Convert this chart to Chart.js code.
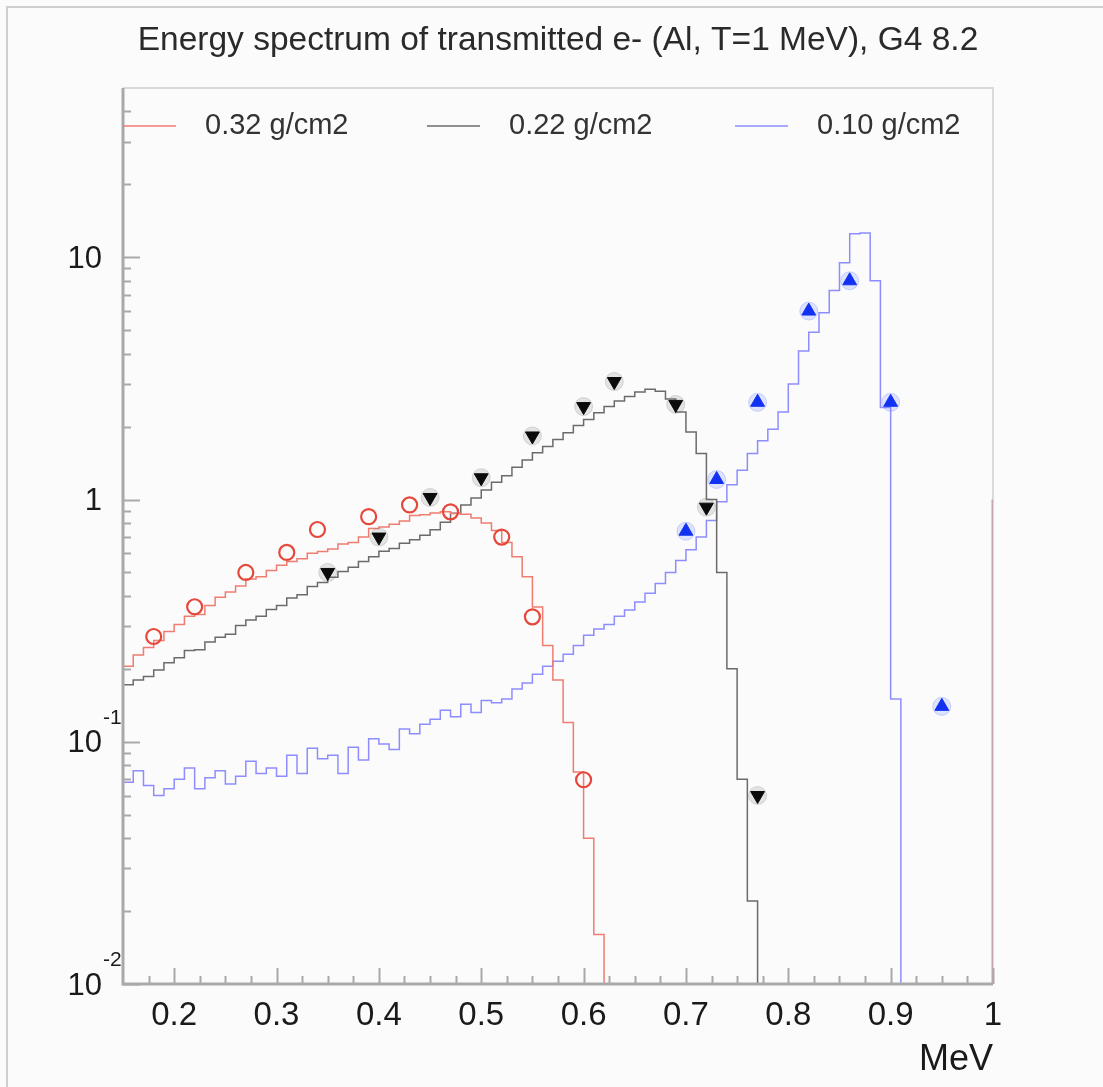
<!DOCTYPE html>
<html>
<head>
<meta charset="utf-8">
<title>Energy spectrum of transmitted e-</title>
<script src="https://cdn.jsdelivr.net/npm/chart.js@4.4.1/dist/chart.umd.min.js"></script>
<style>
  html, body { margin: 0; padding: 0; background: #fbfbfb; }
  canvas { display: block; }
</style>
</head>
<body>
<canvas id="spectrumChart" width="1103" height="1087"></canvas>
<script>
// Histogram bins: 0.01 MeV wide, first bin starts at 0.15 MeV
const binWidth = 0.01;
const binStart = 0.15;

// 0.32 g/cm2 (red), bins 0.15 .. 0.61
const red032 = [
  0.205, 0.228, 0.245, 0.262, 0.285, 0.305, 0.330, 0.335, 0.365, 0.395,
  0.415, 0.440, 0.470, 0.480, 0.510, 0.535, 0.555, 0.570, 0.600, 0.610,
  0.625, 0.655, 0.665, 0.700, 0.760, 0.770, 0.790, 0.815, 0.860, 0.865,
  0.880, 0.890, 0.875, 0.870, 0.840, 0.800, 0.745, 0.665, 0.580, 0.480,
  0.360, 0.250, 0.180, 0.120, 0.075, 0.040, 0.016
];

// 0.22 g/cm2 (black), bins 0.15 .. 0.76
const black022 = [
  0.172, 0.180, 0.186, 0.198, 0.212, 0.222, 0.238, 0.240, 0.258, 0.270,
  0.278, 0.302, 0.318, 0.330, 0.352, 0.365, 0.392, 0.405, 0.438, 0.455,
  0.478, 0.505, 0.525, 0.555, 0.580, 0.612, 0.628, 0.660, 0.682, 0.712,
  0.750, 0.805, 0.878, 0.950, 1.015, 1.095, 1.180, 1.255, 1.360, 1.455,
  1.560, 1.655, 1.770, 1.885, 2.020, 2.140, 2.280, 2.420, 2.550, 2.660,
  2.780, 2.850, 2.800, 2.600, 2.300, 1.900, 1.550, 1.000, 0.500, 0.200,
  0.070, 0.022
];

// 0.10 g/cm2 (blue), bins 0.15 .. 0.90
const blue010 = [
  0.068, 0.076, 0.066, 0.060, 0.064, 0.070, 0.078, 0.064, 0.071, 0.076,
  0.067, 0.072, 0.083, 0.074, 0.078, 0.072, 0.088, 0.074, 0.094, 0.085,
  0.088, 0.074, 0.095, 0.084, 0.103, 0.098, 0.093, 0.113, 0.108, 0.118,
  0.124, 0.135, 0.127, 0.143, 0.132, 0.148, 0.145, 0.150, 0.165, 0.175,
  0.190, 0.205, 0.215, 0.230, 0.250, 0.275, 0.292, 0.305, 0.330, 0.350,
  0.378, 0.410, 0.450, 0.500, 0.560, 0.620, 0.700, 0.820, 0.980, 1.150,
  1.320, 1.550, 1.750, 1.950, 2.300, 3.000, 4.100, 4.900, 5.900, 7.300,
  9.500, 12.50, 12.60, 8.000, 2.400, 0.150
];

// single bin sitting on the 1 MeV edge
const edgeBinStart = 1.0;
const edgeBin = [1.0];

// measured points
const redPtsE = [0.18, 0.22, 0.27, 0.31, 0.34, 0.39, 0.43, 0.47, 0.52, 0.55, 0.60];
const redPtsV = [0.272, 0.361, 0.50, 0.605, 0.752, 0.85, 0.95, 0.89, 0.70, 0.328, 0.0697];
const blackPtsE = [0.35, 0.40, 0.45, 0.50, 0.55, 0.60, 0.63, 0.69, 0.72, 0.77];
const blackPtsV = [0.50, 0.70, 1.02, 1.23, 1.83, 2.42, 3.07, 2.47, 0.93, 0.060];
const bluePtsE = [0.70, 0.73, 0.77, 0.82, 0.86, 0.90, 0.95];
const bluePtsV = [0.74, 1.21, 2.52, 6.0, 8.0, 2.52, 0.14];

// axis ticks and labels
const xTickValues = [0.2, 0.3, 0.4, 0.5, 0.6, 0.7, 0.8, 0.9, 1.0];
const xTickLabels = ['0.2', '0.3', '0.4', '0.5', '0.6', '0.7', '0.8', '0.9', '1'];
const yTickValues = [0.01, 0.1, 1, 10];
const yTickBase = ['10', '10', '1', '10'];
const yTickExp = ['-2', '-1', '', ''];

const legendLabels = ['0.32 g/cm2', '0.22 g/cm2', '0.10 g/cm2'];
const titleText = 'Energy spectrum of transmitted e- (Al, T=1 MeV), G4 8.2';
const xTitle = 'MeV';

const FLOOR = 1e-4; // below the y range, gets clipped
const FONT = '"Liberation Sans", Arial, Helvetica, sans-serif';

const redLine = '#f07c70';
const blackLine = '#6b6b6b';
const blueLine = '#8d8dff';

function histPoints(start, values, riseFromFloor) {
  const pts = [];
  if (riseFromFloor) pts.push({ x: start, y: FLOOR });
  values.forEach((v, i) => pts.push({ x: start + i * binWidth, y: v }));
  pts.push({ x: start + values.length * binWidth, y: FLOOR });
  return pts;
}

function markerPoints(es, vs) {
  return es.map((e, i) => ({ x: e, y: vs[i] }));
}

// ROOT-like frame, ticks, labels, legend and title
const rootStyle = {
  id: 'rootStyle',
  beforeDraw(chart) {
    const { ctx, width, height } = chart;
    ctx.save();
    ctx.strokeStyle = '#cfcfcf';
    ctx.lineWidth = 2;
    ctx.beginPath();
    ctx.moveTo(7, height);
    ctx.lineTo(7, 7);
    ctx.lineTo(width, 7);
    ctx.stroke();
    ctx.restore();
  },
  beforeDatasetsDraw(chart) {
    const { ctx, chartArea: a } = chart;
    ctx.save();
    ctx.strokeStyle = '#dadada';
    ctx.lineWidth = 2;
    ctx.beginPath();
    ctx.moveTo(a.left, a.top);
    ctx.lineTo(a.right, a.top);
    ctx.lineTo(a.right, a.bottom);
    ctx.stroke();
    ctx.restore();
  },
  afterDatasetsDraw(chart) {
    const { ctx, chartArea: a, scales: { x, y } } = chart;
    ctx.save();

    // left and bottom axes
    ctx.strokeStyle = '#a9a9a9';
    ctx.lineWidth = 3;
    ctx.beginPath();
    ctx.moveTo(a.left, a.top);
    ctx.lineTo(a.left, a.bottom);
    ctx.lineTo(a.right, a.bottom);
    ctx.stroke();

    // ticks pointing into the plot
    ctx.lineWidth = 2;
    ctx.beginPath();
    yTickValues.forEach(d => {
      for (let m = 1; m <= 9; m++) {
        const v = m * d;
        if (v >= y.max) break;
        const py = Math.round(y.getPixelForValue(v)) + 0.5;
        ctx.moveTo(a.left, py);
        ctx.lineTo(a.left + (m === 1 ? 17 : 8), py);
      }
    });
    for (let k = 7; k <= 40; k++) {
      const px = Math.round(x.getPixelForValue(k * 0.025)) + 0.5;
      ctx.moveTo(px, a.bottom);
      ctx.lineTo(px, a.bottom - (k % 4 === 0 ? 16 : 8));
    }
    ctx.stroke();

    // tick labels
    ctx.fillStyle = '#1a1a1a';
    ctx.font = '33px ' + FONT;
    ctx.textAlign = 'center';
    ctx.textBaseline = 'middle';
    xTickValues.forEach((v, i) => {
      ctx.fillText(xTickLabels[i], x.getPixelForValue(v), a.bottom + 32);
    });
    yTickValues.forEach((v, i) => {
      const py = y.getPixelForValue(v);
      ctx.font = '31px ' + FONT;
      ctx.textAlign = 'right';
      ctx.fillText(yTickBase[i], a.left - 21, py + 2);
      if (yTickExp[i]) {
        ctx.font = '21px ' + FONT;
        ctx.textAlign = 'left';
        ctx.fillText(yTickExp[i], a.left - 20, py - 24);
      }
    });

    // axis title
    ctx.font = '36px ' + FONT;
    ctx.textAlign = 'right';
    ctx.fillText(xTitle, a.right, a.bottom + 76);

    // title
    ctx.fillStyle = '#2a2a2a';
    ctx.font = '33.5px ' + FONT;
    ctx.textAlign = 'center';
    ctx.fillText(titleText, (a.left + a.right) / 2, 41);

    // legend inside the frame
    const legendColors = [redLine, blackLine, blueLine];
    const sampleX = [0, 304, 612];
    const ly = a.top + 38;
    ctx.font = '29px ' + FONT;
    ctx.textAlign = 'left';
    ctx.fillStyle = '#333';
    legendLabels.forEach((label, i) => {
      const x0 = a.left + sampleX[i];
      ctx.strokeStyle = legendColors[i];
      ctx.lineWidth = 1.5;
      ctx.beginPath();
      ctx.moveTo(x0, ly);
      ctx.lineTo(x0 + 53, ly);
      ctx.stroke();
      ctx.fillText(label, x0 + 82, ly);
    });

    ctx.restore();
  }
};

const ctx = document.getElementById('spectrumChart').getContext('2d');
new Chart(ctx, {
  type: 'line',
  data: {
    datasets: [
      {
        label: 'red markers',
        data: markerPoints(redPtsE, redPtsV),
        showLine: false,
        pointStyle: 'circle',
        pointRadius: 7.5,
        pointBackgroundColor: 'rgba(0,0,0,0)',
        pointBorderColor: '#e5483a',
        pointBorderWidth: 2.2,
        order: 1
      },
      {
        label: 'black markers',
        data: markerPoints(blackPtsE, blackPtsV),
        showLine: false,
        pointStyle: 'triangle',
        rotation: 180,
        pointRadius: 8,
        pointBackgroundColor: '#0b0b0b',
        pointBorderColor: '#0b0b0b',
        pointBorderWidth: 1,
        order: 1
      },
      {
        label: 'blue markers',
        data: markerPoints(bluePtsE, bluePtsV),
        showLine: false,
        pointStyle: 'triangle',
        pointRadius: 8,
        pointBackgroundColor: '#1232f2',
        pointBorderColor: '#1232f2',
        pointBorderWidth: 1,
        order: 1
      },
      {
        label: 'black halo',
        data: markerPoints(blackPtsE, blackPtsV),
        showLine: false,
        pointRadius: 9,
        pointBackgroundColor: 'rgba(120,120,120,0.18)',
        pointBorderColor: 'rgba(120,120,120,0.25)',
        pointBorderWidth: 1,
        order: 2
      },
      {
        label: 'blue halo',
        data: markerPoints(bluePtsE, bluePtsV),
        showLine: false,
        pointRadius: 9,
        pointBackgroundColor: 'rgba(110,130,255,0.2)',
        pointBorderColor: 'rgba(110,130,255,0.3)',
        pointBorderWidth: 1,
        order: 2
      },
      {
        label: '0.32 g/cm2',
        data: histPoints(binStart, red032, false),
        borderColor: redLine,
        borderWidth: 1.5,
        stepped: 'before',
        pointRadius: 0,
        order: 3
      },
      {
        label: '0.22 g/cm2',
        data: histPoints(binStart, black022, false),
        borderColor: blackLine,
        borderWidth: 1.5,
        stepped: 'before',
        pointRadius: 0,
        order: 3
      },
      {
        label: '0.10 g/cm2',
        data: histPoints(binStart, blue010, false),
        borderColor: blueLine,
        borderWidth: 1.5,
        stepped: 'before',
        pointRadius: 0,
        order: 3
      },
      {
        label: 'edge bin',
        data: histPoints(edgeBinStart, edgeBin, true),
        borderColor: '#c4a6ac',
        borderWidth: 3,
        stepped: 'before',
        pointRadius: 0,
        order: 3
      }
    ]
  },
  options: {
    responsive: false,
    animation: false,
    layout: { padding: { left: 123, right: 110, top: 88, bottom: 103 } },
    scales: {
      x: { type: 'linear', min: 0.15, max: 1.0, display: false },
      y: { type: 'logarithmic', min: 0.01, max: 50, display: false }
    },
    plugins: {
      legend: { display: false },
      tooltip: { enabled: false }
    }
  },
  plugins: [rootStyle]
});
</script>
</body>
</html>
